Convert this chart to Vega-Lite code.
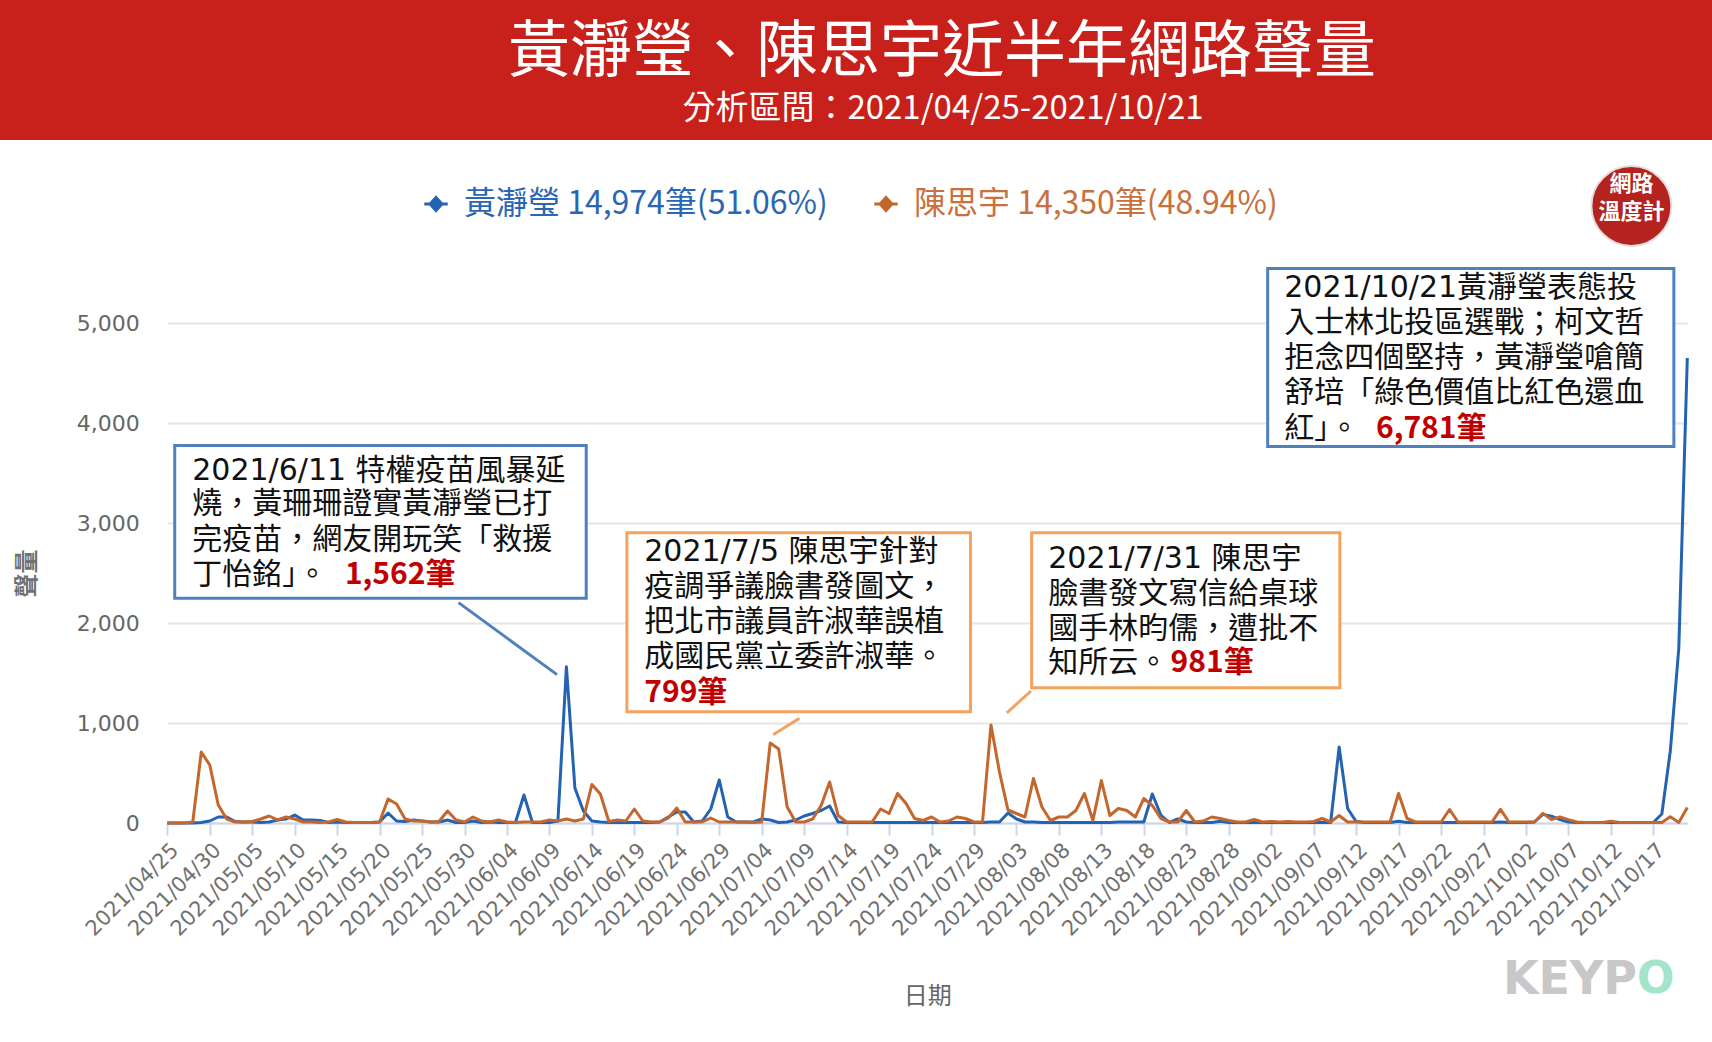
{
  "$schema": "https://vega.github.io/schema/vega-lite/v6.json",
  "padding": {"left": 0, "top": 0, "right": 0, "bottom": 24},
  "spacing": 22,
  "background": "white",
  "resolve": {"scale": {"color": "independent", "stroke": "independent"}, "legend": {"color": "independent", "stroke": "independent"}},
  "config": {
    "view": {"stroke": null},
    "font": "Noto Sans CJK TC"
  },
  "datasets": {
    "daily": [
      {"d":"2021/04/25","黃瀞瑩":0,"陳思宇":0},
      {"d":"2021/04/26","黃瀞瑩":0,"陳思宇":0},
      {"d":"2021/04/27","黃瀞瑩":0,"陳思宇":0},
      {"d":"2021/04/28","黃瀞瑩":0,"陳思宇":10},
      {"d":"2021/04/29","黃瀞瑩":5,"陳思宇":710},
      {"d":"2021/04/30","黃瀞瑩":20,"陳思宇":580},
      {"d":"2021/05/01","黃瀞瑩":60,"陳思宇":180},
      {"d":"2021/05/02","黃瀞瑩":60,"陳思宇":40},
      {"d":"2021/05/03","黃瀞瑩":15,"陳思宇":10},
      {"d":"2021/05/04","黃瀞瑩":10,"陳思宇":10},
      {"d":"2021/05/05","黃瀞瑩":10,"陳思宇":15},
      {"d":"2021/05/06","黃瀞瑩":5,"陳思宇":40},
      {"d":"2021/05/07","黃瀞瑩":10,"陳思宇":70},
      {"d":"2021/05/08","黃瀞瑩":30,"陳思宇":30},
      {"d":"2021/05/09","黃瀞瑩":40,"陳思宇":60},
      {"d":"2021/05/10","黃瀞瑩":80,"陳思宇":40},
      {"d":"2021/05/11","黃瀞瑩":30,"陳思宇":10},
      {"d":"2021/05/12","黃瀞瑩":30,"陳思宇":10},
      {"d":"2021/05/13","黃瀞瑩":25,"陳思宇":5},
      {"d":"2021/05/14","黃瀞瑩":5,"陳思宇":10},
      {"d":"2021/05/15","黃瀞瑩":10,"陳思宇":35},
      {"d":"2021/05/16","黃瀞瑩":5,"陳思宇":10},
      {"d":"2021/05/17","黃瀞瑩":5,"陳思宇":5},
      {"d":"2021/05/18","黃瀞瑩":5,"陳思宇":5},
      {"d":"2021/05/19","黃瀞瑩":5,"陳思宇":5},
      {"d":"2021/05/20","黃瀞瑩":10,"陳思宇":10},
      {"d":"2021/05/21","黃瀞瑩":100,"陳思宇":240},
      {"d":"2021/05/22","黃瀞瑩":20,"陳思宇":190},
      {"d":"2021/05/23","黃瀞瑩":15,"陳思宇":40},
      {"d":"2021/05/24","黃瀞瑩":30,"陳思宇":20},
      {"d":"2021/05/25","黃瀞瑩":20,"陳思宇":20},
      {"d":"2021/05/26","黃瀞瑩":10,"陳思宇":10},
      {"d":"2021/05/27","黃瀞瑩":10,"陳思宇":15},
      {"d":"2021/05/28","黃瀞瑩":30,"陳思宇":120},
      {"d":"2021/05/29","黃瀞瑩":5,"陳思宇":30},
      {"d":"2021/05/30","黃瀞瑩":5,"陳思宇":10},
      {"d":"2021/05/31","黃瀞瑩":20,"陳思宇":60},
      {"d":"2021/06/01","黃瀞瑩":5,"陳思宇":20},
      {"d":"2021/06/02","黃瀞瑩":10,"陳思宇":10},
      {"d":"2021/06/03","黃瀞瑩":5,"陳思宇":30},
      {"d":"2021/06/04","黃瀞瑩":5,"陳思宇":10},
      {"d":"2021/06/05","黃瀞瑩":5,"陳思宇":5},
      {"d":"2021/06/06","黃瀞瑩":280,"陳思宇":10},
      {"d":"2021/06/07","黃瀞瑩":5,"陳思宇":10},
      {"d":"2021/06/08","黃瀞瑩":5,"陳思宇":10},
      {"d":"2021/06/09","黃瀞瑩":5,"陳思宇":30},
      {"d":"2021/06/10","黃瀞瑩":20,"陳思宇":20},
      {"d":"2021/06/11","黃瀞瑩":1562,"陳思宇":40},
      {"d":"2021/06/12","黃瀞瑩":350,"陳思宇":20},
      {"d":"2021/06/13","黃瀞瑩":120,"陳思宇":40},
      {"d":"2021/06/14","黃瀞瑩":20,"陳思宇":385},
      {"d":"2021/06/15","黃瀞瑩":10,"陳思宇":290},
      {"d":"2021/06/16","黃瀞瑩":5,"陳思宇":15},
      {"d":"2021/06/17","黃瀞瑩":5,"陳思宇":30},
      {"d":"2021/06/18","黃瀞瑩":5,"陳思宇":20},
      {"d":"2021/06/19","黃瀞瑩":5,"陳思宇":140},
      {"d":"2021/06/20","黃瀞瑩":5,"陳思宇":20},
      {"d":"2021/06/21","黃瀞瑩":5,"陳思宇":10},
      {"d":"2021/06/22","黃瀞瑩":10,"陳思宇":10},
      {"d":"2021/06/23","黃瀞瑩":60,"陳思宇":50},
      {"d":"2021/06/24","黃瀞瑩":110,"陳思宇":150},
      {"d":"2021/06/25","黃瀞瑩":110,"陳思宇":10},
      {"d":"2021/06/26","黃瀞瑩":10,"陳思宇":10},
      {"d":"2021/06/27","黃瀞瑩":20,"陳思宇":10},
      {"d":"2021/06/28","黃瀞瑩":140,"陳思宇":50},
      {"d":"2021/06/29","黃瀞瑩":430,"陳思宇":10},
      {"d":"2021/06/30","黃瀞瑩":60,"陳思宇":10},
      {"d":"2021/07/01","黃瀞瑩":10,"陳思宇":10},
      {"d":"2021/07/02","黃瀞瑩":10,"陳思宇":10},
      {"d":"2021/07/03","黃瀞瑩":10,"陳思宇":5},
      {"d":"2021/07/04","黃瀞瑩":40,"陳思宇":10},
      {"d":"2021/07/05","黃瀞瑩":30,"陳思宇":799},
      {"d":"2021/07/06","黃瀞瑩":5,"陳思宇":740},
      {"d":"2021/07/07","黃瀞瑩":10,"陳思宇":160},
      {"d":"2021/07/08","黃瀞瑩":30,"陳思宇":10},
      {"d":"2021/07/09","黃瀞瑩":70,"陳思宇":10},
      {"d":"2021/07/10","黃瀞瑩":95,"陳思宇":40},
      {"d":"2021/07/11","黃瀞瑩":125,"陳思宇":175},
      {"d":"2021/07/12","黃瀞瑩":170,"陳思宇":410},
      {"d":"2021/07/13","黃瀞瑩":10,"陳思宇":75},
      {"d":"2021/07/14","黃瀞瑩":5,"陳思宇":10},
      {"d":"2021/07/15","黃瀞瑩":5,"陳思宇":10},
      {"d":"2021/07/16","黃瀞瑩":5,"陳思宇":10},
      {"d":"2021/07/17","黃瀞瑩":5,"陳思宇":10},
      {"d":"2021/07/18","黃瀞瑩":5,"陳思宇":140},
      {"d":"2021/07/19","黃瀞瑩":5,"陳思宇":95},
      {"d":"2021/07/20","黃瀞瑩":5,"陳思宇":295},
      {"d":"2021/07/21","黃瀞瑩":5,"陳思宇":195},
      {"d":"2021/07/22","黃瀞瑩":5,"陳思宇":45},
      {"d":"2021/07/23","黃瀞瑩":5,"陳思宇":25},
      {"d":"2021/07/24","黃瀞瑩":5,"陳思宇":60},
      {"d":"2021/07/25","黃瀞瑩":5,"陳思宇":10},
      {"d":"2021/07/26","黃瀞瑩":5,"陳思宇":20},
      {"d":"2021/07/27","黃瀞瑩":5,"陳思宇":60},
      {"d":"2021/07/28","黃瀞瑩":5,"陳思宇":45},
      {"d":"2021/07/29","黃瀞瑩":5,"陳思宇":10},
      {"d":"2021/07/30","黃瀞瑩":5,"陳思宇":10},
      {"d":"2021/07/31","黃瀞瑩":10,"陳思宇":981},
      {"d":"2021/08/01","黃瀞瑩":10,"陳思宇":510},
      {"d":"2021/08/02","黃瀞瑩":100,"陳思宇":130},
      {"d":"2021/08/03","黃瀞瑩":40,"陳思宇":95},
      {"d":"2021/08/04","黃瀞瑩":10,"陳思宇":60},
      {"d":"2021/08/05","黃瀞瑩":10,"陳思宇":445},
      {"d":"2021/08/06","黃瀞瑩":5,"陳思宇":160},
      {"d":"2021/08/07","黃瀞瑩":5,"陳思宇":25},
      {"d":"2021/08/08","黃瀞瑩":5,"陳思宇":60},
      {"d":"2021/08/09","黃瀞瑩":5,"陳思宇":60},
      {"d":"2021/08/10","黃瀞瑩":5,"陳思宇":125},
      {"d":"2021/08/11","黃瀞瑩":5,"陳思宇":295},
      {"d":"2021/08/12","黃瀞瑩":5,"陳思宇":25},
      {"d":"2021/08/13","黃瀞瑩":5,"陳思宇":425},
      {"d":"2021/08/14","黃瀞瑩":5,"陳思宇":75},
      {"d":"2021/08/15","黃瀞瑩":10,"陳思宇":145},
      {"d":"2021/08/16","黃瀞瑩":10,"陳思宇":125},
      {"d":"2021/08/17","黃瀞瑩":10,"陳思宇":60},
      {"d":"2021/08/18","黃瀞瑩":10,"陳思宇":245},
      {"d":"2021/08/19","黃瀞瑩":290,"陳思宇":175},
      {"d":"2021/08/20","黃瀞瑩":80,"陳思宇":45},
      {"d":"2021/08/21","黃瀞瑩":5,"陳思宇":10},
      {"d":"2021/08/22","黃瀞瑩":40,"陳思宇":10},
      {"d":"2021/08/23","黃瀞瑩":10,"陳思宇":125},
      {"d":"2021/08/24","黃瀞瑩":5,"陳思宇":10},
      {"d":"2021/08/25","黃瀞瑩":5,"陳思宇":20},
      {"d":"2021/08/26","黃瀞瑩":5,"陳思宇":60},
      {"d":"2021/08/27","黃瀞瑩":17,"陳思宇":45},
      {"d":"2021/08/28","黃瀞瑩":5,"陳思宇":25},
      {"d":"2021/08/29","黃瀞瑩":5,"陳思宇":10},
      {"d":"2021/08/30","黃瀞瑩":5,"陳思宇":10},
      {"d":"2021/08/31","黃瀞瑩":5,"陳思宇":35},
      {"d":"2021/09/01","黃瀞瑩":5,"陳思宇":10},
      {"d":"2021/09/02","黃瀞瑩":5,"陳思宇":15},
      {"d":"2021/09/03","黃瀞瑩":5,"陳思宇":10},
      {"d":"2021/09/04","黃瀞瑩":5,"陳思宇":15},
      {"d":"2021/09/05","黃瀞瑩":5,"陳思宇":10},
      {"d":"2021/09/06","黃瀞瑩":5,"陳思宇":10},
      {"d":"2021/09/07","黃瀞瑩":5,"陳思宇":15},
      {"d":"2021/09/08","黃瀞瑩":5,"陳思宇":45},
      {"d":"2021/09/09","黃瀞瑩":5,"陳思宇":10},
      {"d":"2021/09/10","黃瀞瑩":760,"陳思宇":75},
      {"d":"2021/09/11","黃瀞瑩":145,"陳思宇":10},
      {"d":"2021/09/12","黃瀞瑩":15,"陳思宇":10},
      {"d":"2021/09/13","黃瀞瑩":5,"陳思宇":10},
      {"d":"2021/09/14","黃瀞瑩":5,"陳思宇":10},
      {"d":"2021/09/15","黃瀞瑩":5,"陳思宇":10},
      {"d":"2021/09/16","黃瀞瑩":5,"陳思宇":10},
      {"d":"2021/09/17","黃瀞瑩":17,"陳思宇":295},
      {"d":"2021/09/18","黃瀞瑩":5,"陳思宇":45},
      {"d":"2021/09/19","黃瀞瑩":5,"陳思宇":10},
      {"d":"2021/09/20","黃瀞瑩":5,"陳思宇":10},
      {"d":"2021/09/21","黃瀞瑩":5,"陳思宇":10},
      {"d":"2021/09/22","黃瀞瑩":5,"陳思宇":10},
      {"d":"2021/09/23","黃瀞瑩":5,"陳思宇":135},
      {"d":"2021/09/24","黃瀞瑩":5,"陳思宇":10},
      {"d":"2021/09/25","黃瀞瑩":5,"陳思宇":10},
      {"d":"2021/09/26","黃瀞瑩":5,"陳思宇":10},
      {"d":"2021/09/27","黃瀞瑩":5,"陳思宇":10},
      {"d":"2021/09/28","黃瀞瑩":5,"陳思宇":10},
      {"d":"2021/09/29","黃瀞瑩":10,"陳思宇":137},
      {"d":"2021/09/30","黃瀞瑩":5,"陳思宇":10},
      {"d":"2021/10/01","黃瀞瑩":5,"陳思宇":10},
      {"d":"2021/10/02","黃瀞瑩":5,"陳思宇":10},
      {"d":"2021/10/03","黃瀞瑩":10,"陳思宇":10},
      {"d":"2021/10/04","黃瀞瑩":86,"陳思宇":96},
      {"d":"2021/10/05","黃瀞瑩":69,"陳思宇":34},
      {"d":"2021/10/06","黃瀞瑩":34,"陳思宇":62},
      {"d":"2021/10/07","黃瀞瑩":10,"陳思宇":34},
      {"d":"2021/10/08","黃瀞瑩":5,"陳思宇":10},
      {"d":"2021/10/09","黃瀞瑩":5,"陳思宇":5},
      {"d":"2021/10/10","黃瀞瑩":5,"陳思宇":5},
      {"d":"2021/10/11","黃瀞瑩":5,"陳思宇":5},
      {"d":"2021/10/12","黃瀞瑩":5,"陳思宇":17},
      {"d":"2021/10/13","黃瀞瑩":5,"陳思宇":5},
      {"d":"2021/10/14","黃瀞瑩":5,"陳思宇":5},
      {"d":"2021/10/15","黃瀞瑩":5,"陳思宇":5},
      {"d":"2021/10/16","黃瀞瑩":5,"陳思宇":5},
      {"d":"2021/10/17","黃瀞瑩":5,"陳思宇":5},
      {"d":"2021/10/18","黃瀞瑩":90,"陳思宇":5},
      {"d":"2021/10/19","黃瀞瑩":720,"陳思宇":62},
      {"d":"2021/10/20","黃瀞瑩":1750,"陳思宇":5},
      {"d":"2021/10/21","黃瀞瑩":4650,"陳思宇":155}
    ],
    "boxes": [
      {"x1":"2021/04/25 21:00","x2":"2021/06/13 08:00","y1":2248,"y2":3776,"k":"blue"},
      {"x1":"2021/06/18 03:00","x2":"2021/07/28 14:00","y1":1112,"y2":2903,"k":"orange"},
      {"x1":"2021/08/04 19:00","x2":"2021/09/10 02:00","y1":1353,"y2":2903,"k":"orange"},
      {"x1":"2021/09/01 14:00","x2":"2021/10/19 10:00","y1":3765,"y2":5545,"k":"blue"}
    ],
    "links": [
      {"x1":"2021/05/29 07:00","x2":"2021/06/09 21:30","y1":2204,"y2":1484,"k":"blue"},
      {"x1":"2021/07/05 08:30","x2":"2021/07/08 10:30","y1":883,"y2":1047,"k":"orange"},
      {"x1":"2021/08/01 20:45","x2":"2021/08/04 17:00","y1":1101,"y2":1320,"k":"orange"}
    ],
    "notes": [
      {"x":"2021/04/27 22:30","y":3525,"t":"2021/6/11 特權疫苗風暴延","part":"body"},
      {"x":"2021/04/27 22:30","y":3187,"t":"燒，黃珊珊證實黃瀞瑩已打","part":"body"},
      {"x":"2021/04/27 22:30","y":2827,"t":"完疫苗，網友開玩笑「救援","part":"body"},
      {"x":"2021/04/27 22:30","y":2477,"t":"丁怡銘」。","part":"body"},
      {"x":"2021/05/15 22:00","y":2477,"t":"1,562筆","part":"count"},
      {"x":"2021/06/20 04:00","y":2706,"t":"2021/7/5 陳思宇針對","part":"body"},
      {"x":"2021/06/20 04:00","y":2357,"t":"疫調爭議臉書發圖文，","part":"body"},
      {"x":"2021/06/20 04:00","y":2008,"t":"把北市議員許淑華誤植","part":"body"},
      {"x":"2021/06/20 04:00","y":1658,"t":"成國民黨立委許淑華。","part":"body"},
      {"x":"2021/06/20 04:00","y":1298,"t":"799筆","part":"count"},
      {"x":"2021/08/06 17:45","y":2641,"t":"2021/7/31 陳思宇","part":"body"},
      {"x":"2021/08/06 17:45","y":2291,"t":"臉書發文寫信給桌球","part":"body"},
      {"x":"2021/08/06 17:45","y":1942,"t":"國手林昀儒，遭批不","part":"body"},
      {"x":"2021/08/06 17:45","y":1604,"t":"知所云。","part":"body"},
      {"x":"2021/08/21 03:30","y":1604,"t":"981筆","part":"count"},
      {"x":"2021/09/03 12:45","y":5348,"t":"2021/10/21黃瀞瑩表態投","part":"body"},
      {"x":"2021/09/03 12:45","y":4999,"t":"入士林北投區選戰；柯文哲","part":"body"},
      {"x":"2021/09/03 12:45","y":4650,"t":"拒念四個堅持，黃瀞瑩嗆簡","part":"body"},
      {"x":"2021/09/03 12:45","y":4300,"t":"舒培「綠色價值比紅色還血","part":"body"},
      {"x":"2021/09/03 12:45","y":3940,"t":"紅」。","part":"body"},
      {"x":"2021/09/14 08:00","y":3940,"t":"6,781筆","part":"count"}
    ],
    "logo": [
      {"x":"2021/10/14 10:00","y":6170,"t":""},
      {"x":"2021/10/14 10:00","y":6386,"t":"網路"},
      {"x":"2021/10/14 10:00","y":6113,"t":"溫度計"}
    ],
    "mark": [
      {"x":"2021/10/15 02:00","y":-1570,"t":"KEYP","part":"a"},
      {"x":"2021/10/15 02:00","y":-1570,"t":"O","part":"b"}
    ]
  },
  "vconcat": [
    {
      "width": 1712,
      "height": 140,
      "view": {"fill": "#c8201b", "stroke": null},
      "data": {"values": [
        {"t": "黃瀞瑩、陳思宇近半年網路聲量", "role": "title"},
        {"t": "分析區間：2021/04/25-2021/10/21", "role": "subtitle"}
      ]},
      "layer": [
        {
          "transform": [{"filter": "datum.role == 'title'"}],
          "mark": {"type": "text", "color": "white", "fontSize": 62, "dx": 86, "dy": -17, "baseline": "middle", "align": "center"},
          "encoding": {"text": {"field": "t"}}
        },
        {
          "transform": [{"filter": "datum.role == 'subtitle'"}],
          "mark": {"type": "text", "color": "white", "fontSize": 33, "dx": 87, "dy": 39, "baseline": "middle", "align": "center"},
          "encoding": {"text": {"field": "t"}}
        }
      ]
    },
    {
      "width": 1712,
      "height": 500,
      "layer": [
        {
          "data": {"name": "daily"},
          "transform": [{"fold": ["黃瀞瑩", "陳思宇"], "as": ["series", "count"]}],
          "mark": {"type": "line", "strokeWidth": 3, "strokeJoin": "round"},
          "encoding": {
            "x": {
              "field": "d", "type": "temporal", "title": "日期",
              "scale": {"domain": [{"year":2021,"month":4,"date":25},{"year":2021,"month":10,"date":21}], "range": [167.3, 1687.3]},
              "axis": {
                "values": [
                  {"year":2021,"month":4,"date":25},{"year":2021,"month":4,"date":30},
                  {"year":2021,"month":5,"date":5},{"year":2021,"month":5,"date":10},
                  {"year":2021,"month":5,"date":15},{"year":2021,"month":5,"date":20},
                  {"year":2021,"month":5,"date":25},{"year":2021,"month":5,"date":30},
                  {"year":2021,"month":6,"date":4},{"year":2021,"month":6,"date":9},
                  {"year":2021,"month":6,"date":14},{"year":2021,"month":6,"date":19},
                  {"year":2021,"month":6,"date":24},{"year":2021,"month":6,"date":29},
                  {"year":2021,"month":7,"date":4},{"year":2021,"month":7,"date":9},
                  {"year":2021,"month":7,"date":14},{"year":2021,"month":7,"date":19},
                  {"year":2021,"month":7,"date":24},{"year":2021,"month":7,"date":29},
                  {"year":2021,"month":8,"date":3},{"year":2021,"month":8,"date":8},
                  {"year":2021,"month":8,"date":13},{"year":2021,"month":8,"date":18},
                  {"year":2021,"month":8,"date":23},{"year":2021,"month":8,"date":28},
                  {"year":2021,"month":9,"date":2},{"year":2021,"month":9,"date":7},
                  {"year":2021,"month":9,"date":12},{"year":2021,"month":9,"date":17},
                  {"year":2021,"month":9,"date":22},{"year":2021,"month":9,"date":27},
                  {"year":2021,"month":10,"date":2},{"year":2021,"month":10,"date":7},
                  {"year":2021,"month":10,"date":12},{"year":2021,"month":10,"date":17}
                ],
                "format": "%Y/%m/%d",
                "labelAngle": -45,
                "labelFont": "DejaVu Sans",
                "labelFontSize": 21,
                "labelColor": "#707070",
                "labelOverlap": false,
                "labelFlush": false,
                "labelBound": false,
                "labelPadding": 4,
                "domainColor": "#ccd6eb",
                "domainWidth": 2,
                "tickColor": "#ccd6eb",
                "tickSize": 12,
                "tickWidth": 2,
                "grid": false,
                "titleFont": "Noto Sans CJK TC",
                "titleFontSize": 24,
                "titleFontWeight": "normal",
                "titleColor": "#666666",
                "titlePadding": 45
              }
            },
            "y": {
              "field": "count", "type": "quantitative", "title": "聲量",
              "scale": {"domain": [0, 5000], "nice": false},
              "axis": {
                "values": [0, 1000, 2000, 3000, 4000, 5000],
                "format": ",d",
                "offset": -167.3,
                "labelFont": "DejaVu Sans",
                "labelFontSize": 22,
                "labelColor": "#666666",
                "labelPadding": 28,
                "ticks": false,
                "domain": false,
                "grid": true,
                "gridColor": "#e6e6e6",
                "gridWidth": 2,
                "titleFont": "Noto Sans CJK TC",
                "titleFontSize": 24,
                "titleFontWeight": "bold",
                "titleColor": "#707070",
                "titlePadding": 37
              }
            },
            "color": {
              "field": "series", "type": "nominal",
              "scale": {"domain": ["黃瀞瑩", "陳思宇"], "range": ["#2363b1", "#c3672f"]},
              "legend": {
                "orient": "none",
                "legendX": 420,
                "legendY": -135,
                "direction": "horizontal",
                "title": null,
                "padding": 0,
                "labelFont": "Noto Sans CJK TC",
                "labelFontSize": 32,
                "labelLimit": 800,
                "labelOffset": 12,
                "columnPadding": 40,
                "labelExpr": "datum.value == '黃瀞瑩' ? '黃瀞瑩 14,974筆(51.06%)' : '陳思宇 14,350筆(48.94%)'",
                "labelColor": {"expr": "datum.value == '黃瀞瑩' ? '#2a66b3' : '#c8703e'"},
                "symbolType": "M-1,0H1M0,-0.55L0.5,0L0,0.55L-0.5,0Z",
                "symbolSize": 550,
                "symbolStrokeWidth": 3,
                "symbolFillColor": {"expr": "datum.value == '黃瀞瑩' ? '#2363b1' : '#c3672f'"}
              }
            }
          }
        },
        {
          "data": {"name": "boxes"},
          "mark": {"type": "rect", "fill": "white", "strokeWidth": 3},
          "encoding": {
            "x": {"field": "x1", "type": "temporal", "title": "日期"},
            "x2": {"field": "x2"},
            "y": {"field": "y1", "type": "quantitative", "title": "聲量"},
            "y2": {"field": "y2"},
            "stroke": {"field": "k", "type": "nominal", "scale": {"domain": ["blue", "orange"], "range": ["#4f81bd", "#f5a35c"]}, "legend": null}
          }
        },
        {
          "data": {"name": "links"},
          "mark": {"type": "rule", "strokeWidth": 3},
          "encoding": {
            "x": {"field": "x1", "type": "temporal", "title": "日期"},
            "x2": {"field": "x2"},
            "y": {"field": "y1", "type": "quantitative", "title": "聲量"},
            "y2": {"field": "y2"},
            "stroke": {"field": "k", "type": "nominal", "legend": null}
          }
        },
        {
          "data": {"name": "notes"},
          "transform": [{"filter": "datum.part == 'body'"}],
          "mark": {"type": "text", "align": "left", "baseline": "middle", "fontSize": 30, "color": "#111111", "font": "DejaVu Sans, Noto Sans CJK TC"},
          "encoding": {
            "x": {"field": "x", "type": "temporal", "title": "日期"},
            "y": {"field": "y", "type": "quantitative", "title": "聲量"},
            "text": {"field": "t"}
          }
        },
        {
          "data": {"name": "notes"},
          "transform": [{"filter": "datum.part == 'count'"}],
          "mark": {"type": "text", "align": "left", "baseline": "middle", "fontSize": 30, "fontWeight": "bold", "color": "#c00000", "font": "Noto Sans CJK TC"},
          "encoding": {
            "x": {"field": "x", "type": "temporal", "title": "日期"},
            "y": {"field": "y", "type": "quantitative", "title": "聲量"},
            "text": {"field": "t"}
          }
        },
        {
          "data": {"name": "logo"},
          "transform": [{"filter": "datum.t == ''"}],
          "mark": {"type": "point", "shape": "circle", "filled": true, "size": 6400, "color": "#b5231e", "opacity": 1, "stroke": "#e0e0e0", "strokeWidth": 2},
          "encoding": {
            "x": {"field": "x", "type": "temporal", "title": "日期"},
            "y": {"field": "y", "type": "quantitative", "title": "聲量"}
          }
        },
        {
          "data": {"name": "logo"},
          "transform": [{"filter": "datum.t != ''"}],
          "mark": {"type": "text", "align": "center", "baseline": "middle", "fontSize": 22, "fontWeight": "bold", "color": "white"},
          "encoding": {
            "x": {"field": "x", "type": "temporal", "title": "日期"},
            "y": {"field": "y", "type": "quantitative", "title": "聲量"},
            "text": {"field": "t"}
          }
        },
        {
          "data": {"name": "mark"},
          "transform": [{"filter": "datum.part == 'a'"}],
          "mark": {"type": "text", "align": "right", "baseline": "middle", "fontSize": 46, "fontWeight": "bold", "color": "#c8c8c8", "font": "DejaVu Sans"},
          "encoding": {
            "x": {"field": "x", "type": "temporal", "title": "日期"},
            "y": {"field": "y", "type": "quantitative", "title": "聲量"},
            "text": {"field": "t"}
          }
        },
        {
          "data": {"name": "mark"},
          "transform": [{"filter": "datum.part == 'b'"}],
          "mark": {"type": "text", "align": "left", "baseline": "middle", "fontSize": 44, "fontWeight": "bold", "color": "#a3e4cb", "font": "DejaVu Sans"},
          "encoding": {
            "x": {"field": "x", "type": "temporal", "title": "日期"},
            "y": {"field": "y", "type": "quantitative", "title": "聲量"},
            "text": {"field": "t"}
          }
        }
      ]
    }
  ]
}
